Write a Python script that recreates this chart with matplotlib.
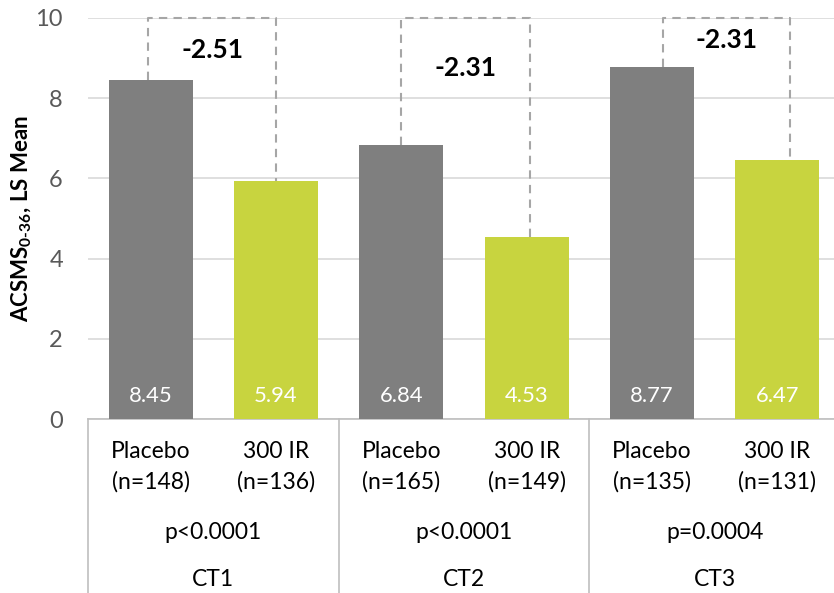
"""
Bar chart of ACSMS LS mean per trial, placebo vs 300 IR, with treatment differences.
"""
import matplotlib
matplotlib.use("Agg")
import matplotlib.pyplot as plt
import matplotlib.transforms as mtransforms

plt.rcParams["font.family"] = ["Lato", "DejaVu Sans"]
plt.rcParams["mathtext.fontset"] = "custom"
plt.rcParams["mathtext.rm"] = "Lato:bold"
plt.rcParams["mathtext.it"] = "Lato:bold"
plt.rcParams["mathtext.bf"] = "Lato:bold"

TRIALS = ["CT1", "CT2", "CT3"]
ARMS = ["Placebo", "300 IR"]
PLACEBO = [8.45, 6.84, 8.77]
ACTIVE = [5.94, 4.53, 6.47]
N_PLACEBO = [148, 165, 135]
N_ACTIVE = [136, 149, 131]
DIFFS = ["-2.51", "-2.31", "-2.31"]
P_VALUES = ["p<0.0001", "p<0.0001", "p=0.0004"]
DIFF_LABEL_Y = [9.2, 8.75, 9.45]

GREY = "#7f7f7f"
GREEN = "#c8d43f"
DASH = "#a6a6a6"
TICK = "#595959"

W, H = 834, 593
fig = plt.figure(figsize=(W / 100, H / 100), dpi=100)
ax = fig.add_axes([88 / W, (H - 419) / H, 752 / W, 401 / H])

values, colors, xs = [], [], []
for i in range(len(TRIALS)):
    values += [PLACEBO[i], ACTIVE[i]]
    colors += [GREY, GREEN]
    xs += [2 * i, 2 * i + 1]

ax.bar(xs, values, width=0.67, color=colors, zorder=3)
for x, v in zip(xs, values):
    ax.text(x, 0.57, f"{v:.2f}", ha="center", va="center", color="white",
            fontsize=15.8, zorder=4)

# dashed brackets showing the difference
offsets = [(-0.02, 0.0), (0.0, 0.03), (0.09, 0.10)]
for i in range(len(TRIALS)):
    x0 = 2 * i + offsets[i][0]
    x1 = 2 * i + 1 + offsets[i][1]
    ax.plot([x0, x0, x1, x1], [PLACEBO[i], 10, 10, ACTIVE[i]], color=DASH,
            lw=1.5, ls=(0, (4, 3)), zorder=2, clip_on=False)
    ax.text((x0 + x1) / 2, DIFF_LABEL_Y[i], DIFFS[i], ha="center",
            va="center", fontsize=19, fontweight="bold", color="black")

ax.set_xlim(-0.5, 5.5)
ax.set_ylim(0, 10)
ax.set_yticks(range(0, 11, 2))
ax.yaxis.grid(True, color="#d9d9d9", lw=1.2, zorder=0)
ax.tick_params(axis="y", length=0, pad=18, labelsize=17, labelcolor=TICK)
ax.tick_params(axis="x", length=0, labelbottom=False)
for side in ["left", "right", "top"]:
    ax.spines[side].set_visible(False)
ax.spines["bottom"].set_color("#bfbfbf")
ax.spines["bottom"].set_linewidth(1.2)
ax.set_ylabel(r"ACSMS$_{0\text{-}36}$, LS Mean", fontsize=16,
              fontweight="bold", va="center")
ax.yaxis.set_label_coords(-0.088, 0.5)

# category table under the axis
trans = mtransforms.blended_transform_factory(ax.transData, ax.transAxes)
for xb in [-0.5, 1.5, 3.5, 5.5]:
    ax.plot([xb, xb], [0, -0.45], color="#bfbfbf", lw=1.2,
            transform=trans, clip_on=False)
for i in range(len(TRIALS)):
    for j, n in enumerate([N_PLACEBO[i], N_ACTIVE[i]]):
        ax.text(2 * i + j, -0.082, ARMS[j], transform=trans, ha="center",
                va="center", fontsize=16.5)
        ax.text(2 * i + j, -0.157, f"(n={n})", transform=trans, ha="center",
                va="center", fontsize=16.5)
    ax.text(2 * i + 0.5, -0.282, P_VALUES[i], transform=trans, ha="center",
            va="center", fontsize=16.5)
    ax.text(2 * i + 0.5, -0.401, TRIALS[i], transform=trans, ha="center",
            va="center", fontsize=16.5)

fig.savefig("out.png", dpi=100)
